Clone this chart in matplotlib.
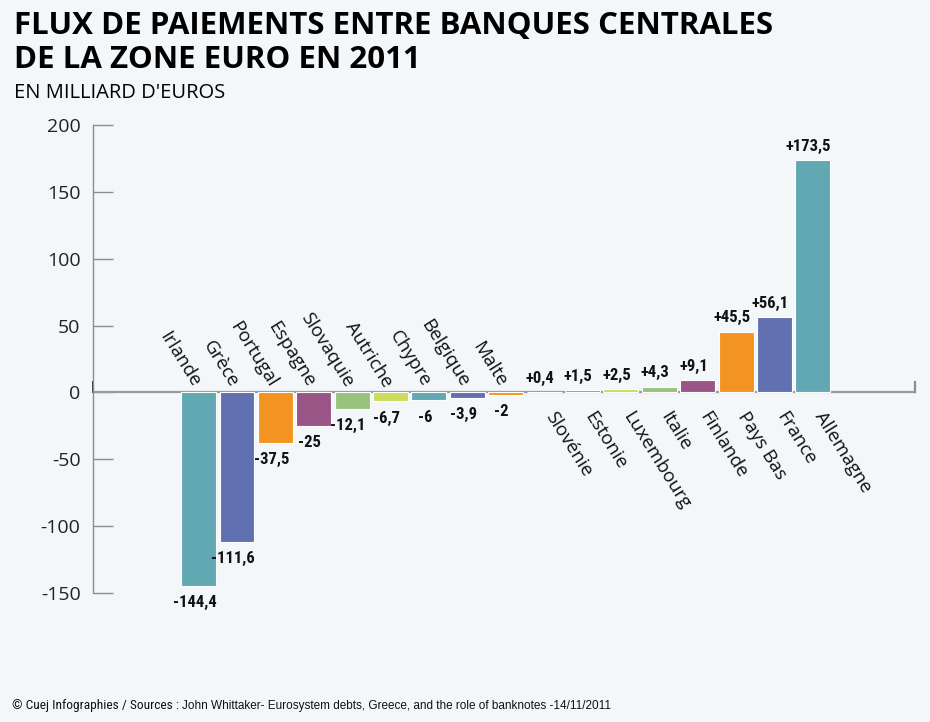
import numpy as np
import matplotlib
matplotlib.use('Agg')
import matplotlib.pyplot as plt
from matplotlib.transforms import blended_transform_factory

# Donnees (milliards d'euros)
pays = ['Irlande', 'Grèce', 'Portugal', 'Espagne', 'Slovaquie', 'Autriche',
        'Chypre', 'Belgique', 'Malte', 'Slovénie', 'Estonie', 'Luxembourg',
        'Italie', 'Finlande', 'Pays Bas', 'France', 'Allemagne']
valeurs = [-144.4, -111.6, -37.5, -25, -12.1, -6.7, -6, -3.9, -2,
           0.4, 1.5, 2.5, 4.3, 9.1, 45.5, 56.1, 173.5]
etiquettes = ['-144,4', '-111,6', '-37,5', '-25', '-12,1', '-6,7', '-6', '-3,9', '-2',
              '+0,4', '+1,5', '+2,5', '+4,3', '+9,1', '+45,5', '+56,1', '+173,5']
yticks = [-150, -100, -50, 0, 50, 100, 150, 200]

TEAL = '#61a8b3'
BLEU = '#6170b0'
ORANGE = '#f39422'
VIOLET = '#9a5587'
VERT = '#99c27d'
JAUNE = '#cddb5c'
couleurs = [TEAL, BLEU, ORANGE, VIOLET, VERT, JAUNE, TEAL, BLEU, ORANGE,
            BLEU, TEAL, JAUNE, VERT, VIOLET, ORANGE, BLEU, TEAL]

FOND = '#f3f7fa'
police = ['Open Sans', 'DejaVu Sans']
police_valeurs = ['Roboto Condensed', 'Open Sans', 'DejaVu Sans']

fig = plt.figure(figsize=(9.3, 7.22), dpi=100, facecolor=FOND)
W, H = 930, 722
# axes en pixels : x 93 -> 915, y 125 (200) -> 593 (-150)
ax = fig.add_axes([93 / W, 1 - 593 / H, (915 - 93) / W, (593 - 125) / H])
ax.set_facecolor(FOND)

x = np.arange(len(pays))
ax.bar(x, valeurs, width=0.91, color=couleurs, edgecolor='white', linewidth=0.8, zorder=3)

ax.set_xlim(-2.75, 18.66)
ax.set_ylim(-150, 200)

for s in ['top', 'right', 'bottom']:
    ax.spines[s].set_visible(False)
ax.spines['left'].set_color('#8c8c8c')
ax.spines['left'].set_linewidth(1.0)
ax.set_yticks(yticks)
ax.set_yticklabels([str(v) for v in yticks], family=police, fontsize=14, color='#222222')
ax.tick_params(axis='y', direction='in', length=14.5, width=1.0, color='#8c8c8c', pad=9)
ax.set_xticks([])

# ligne du zero
ax.axhline(0, color='#9a9a9a', lw=1.6, zorder=2)
tr = blended_transform_factory(ax.transAxes, ax.transData)
ax.plot([1, 1], [0, 7.5], color='#8c8c8c', lw=1.6, transform=tr, clip_on=False)
ax.plot([0, 0], [0, 8], color='#333333', lw=1.4, transform=tr, clip_on=False)

for i, (p, v, e) in enumerate(zip(pays, valeurs, etiquettes)):
    if v < 0:
        ax.annotate(p, (i, 0), xytext=(-2, 5), textcoords='offset points',
                    rotation=-58, rotation_mode='anchor', ha='right', va='center',
                    fontsize=13.5, family=police, color='#111111')
        ax.annotate(e, (i, v), xytext=(-3, -12), textcoords='offset points',
                    ha='center', va='center', fontsize=12, fontweight='bold',
                    family=police_valeurs, color='#111111')
    else:
        ax.annotate(p, (i, 0), xytext=(4, -15), textcoords='offset points',
                    rotation=-58, rotation_mode='anchor', ha='left', va='center',
                    fontsize=13.5, family=police, color='#111111')
        ax.annotate(e, (i, v), xytext=(-3, 10), textcoords='offset points',
                    ha='center', va='center', fontsize=12, fontweight='bold',
                    family=police_valeurs, color='#111111')

# titres
fig.text(14 / W, 1 - 11 / H, 'FLUX DE PAIEMENTS ENTRE BANQUES CENTRALES\nDE LA ZONE EURO EN 2011',
         ha='left', va='top', fontsize=22.5, fontweight='bold', family=police,
         color='#000000', linespacing=1.18)
fig.text(14 / W, 1 - 83 / H, "EN MILLIARD D'EUROS", ha='left', va='top',
         fontsize=14.5, family=police, color='#000000')
source1 = fig.text(12 / W, 1 - 706 / H, '© Cuej Infographies / Sources : ',
                   ha='left', va='center', fontsize=9.6, family=police_valeurs,
                   color='#111111')
fig.add_artist(plt.Annotation('John Whittaker- Eurosystem debts, Greece, and the role of banknotes -14/11/2011',
                              xy=(1, 0.5), xycoords=source1, ha='left', va='center',
                              fontsize=8.5, family=['Liberation Sans', 'DejaVu Sans'],
                              color='#111111'))

fig.savefig('out.png', dpi=100, facecolor=FOND)
